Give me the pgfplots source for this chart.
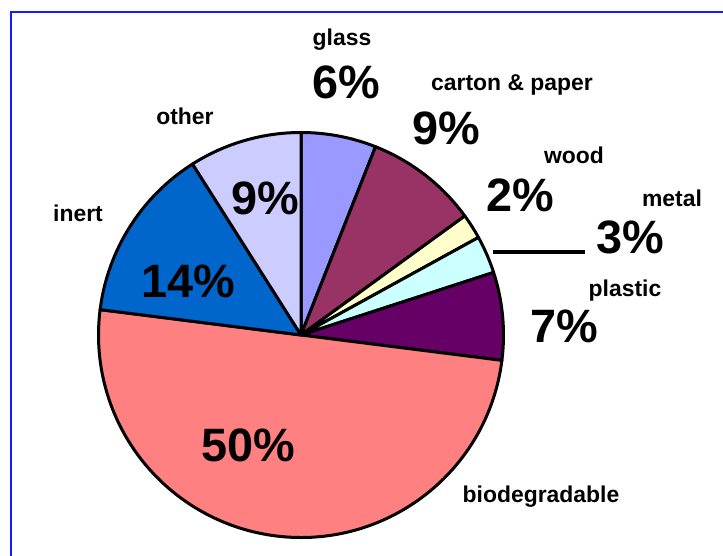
\documentclass[border=0pt]{standalone}
\usepackage{pgfplots}
\usepackage{pgfplotstable}
\pgfplotsset{compat=1.18}
\usepackage{fontspec}
\setmainfont{Liberation Sans}
\definecolor{cglass}{HTML}{9999FF}
\definecolor{ccarton}{HTML}{993366}
\definecolor{cwood}{HTML}{FFFFCC}
\definecolor{cmetal}{HTML}{CCFFFF}
\definecolor{cplastic}{HTML}{660066}
\definecolor{cbio}{HTML}{FF8080}
\definecolor{cinert}{HTML}{0066CC}
\definecolor{cother}{HTML}{CCCCFF}
\definecolor{frameblue}{HTML}{1A1AFF}
\tikzset{
  nl/.style={anchor=base, font=\fontsize{23}{27}\selectfont\bfseries},
  pl/.style={anchor=base, font=\fontsize{47}{52}\selectfont\bfseries},
}
\pgfplotstableread[col sep=comma]{
name,value,col
glass,6,cglass
carton,9,ccarton
wood,2,cwood
metal,3,cmetal
plastic,7,cplastic
biodegradable,50,cbio
inert,14,cinert
other,9,cother
}\piedata
\begin{document}
\begin{tikzpicture}
\begin{axis}[
  scale only axis, width=723bp, height=556bp,
  xmin=0, xmax=723, ymin=0, ymax=556,
  axis lines=none, clip=true,
]
\draw[frameblue, line width=2bp] (axis cs:11,-30) -- (axis cs:11,544) -- (axis cs:760,544);
\def\cumangle{90}
\pgfplotsforeachungrouped \i in {0,...,7}{%
  \pgfplotstablegetelem{\i}{value}\of\piedata \let\v\pgfplotsretval
  \pgfplotstablegetelem{\i}{col}\of\piedata \let\c\pgfplotsretval
  \pgfmathsetmacro\endangle{\cumangle-3.6*\v}%
  \edef\temp{\noexpand\filldraw[fill=\c, draw=black, line width=3bp, line join=round]
    (axis cs:301,221) -- ([shift={(\cumangle:202.5bp)}]axis cs:301,221)
    arc[start angle=\cumangle, end angle=\endangle, radius=202.5bp] -- cycle;}%
  \temp
  \global\let\cumangle\endangle
}
\draw[black, line width=4bp] (axis cs:493,304) -- (axis cs:585,304);
\node[nl] at (axis cs:342,510) {glass};
\node[pl] at (axis cs:346,457) {6\%};
\node[nl] at (axis cs:512,465) {carton \& paper};
\node[pl] at (axis cs:446,411) {9\%};
\node[nl] at (axis cs:574,392) {wood};
\node[pl] at (axis cs:520,344) {2\%};
\node[nl] at (axis cs:672,349) {metal};
\node[pl] at (axis cs:630,302) {3\%};
\node[nl] at (axis cs:625,259) {plastic};
\node[pl] at (axis cs:564,213) {7\%};
\node[nl] at (axis cs:541,53) {biodegradable};
\node[pl] at (axis cs:248,94) {50\%};
\node[nl] at (axis cs:78,334) {inert};
\node[pl] at (axis cs:188,258) {14\%};
\node[nl] at (axis cs:185,431) {other};
\node[pl] at (axis cs:265,341) {9\%};
\end{axis}
\pgfresetboundingbox
\path (current axis.south west) rectangle (current axis.north east);
\end{tikzpicture}
\end{document}
